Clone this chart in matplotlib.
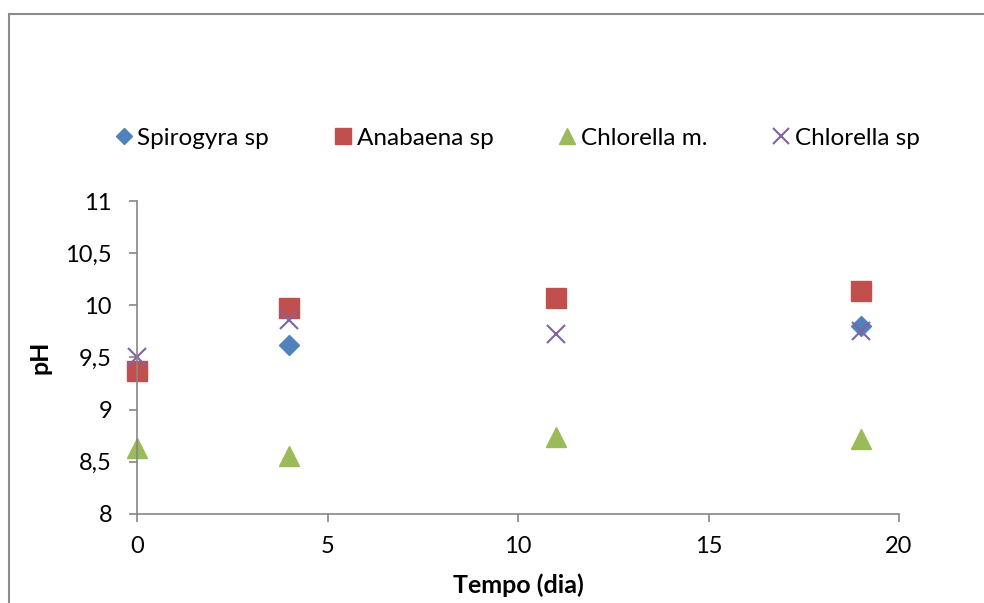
import matplotlib
matplotlib.use("Agg")
import matplotlib.pyplot as plt
from matplotlib.patches import Rectangle
from matplotlib.ticker import FuncFormatter

plt.rcParams['font.family'] = ['Lato', 'DejaVu Sans']

# Sampling days and measured pH per culture
dias = [0, 4, 11, 19]
spirogyra = [9.37, 9.62, 10.07, 9.80]
anabaena = [9.37, 9.97, 10.07, 10.14]
chlorella_m = [8.63, 8.56, 8.74, 8.72]
chlorella_sp = [9.50, 9.86, 9.73, 9.75]

series = [
    ("Spirogyra sp", spirogyra, "D", "#4F81BD", 10),
    ("Anabaena sp", anabaena, "s", "#C0504D", 14),
    ("Chlorella m.", chlorella_m, "^", "#9BBB59", 14),
    ("Chlorella sp", chlorella_sp, "x", "#8064A2", 13),
]

fig = plt.figure(figsize=(9.84, 6.03), dpi=100)

# outer chart frame
fig.patches.append(Rectangle((9 / 984, -0.1), 1.2, 1 - 14 / 603 + 0.1,
                             transform=fig.transFigure, fill=False,
                             edgecolor="#8c8c8c", linewidth=1.5))

ax = fig.add_axes([137 / 984, 1 - 514 / 603, (899 - 137) / 984, (514 - 201) / 603])

handles = []
for name, vals, mk, col, ms in series:
    if mk == "x":
        h, = ax.plot(dias, vals, linestyle="none", marker=mk, markersize=ms,
                     markeredgewidth=1.5, color=col, label=name, clip_on=False)
    else:
        h, = ax.plot(dias, vals, linestyle="none", marker=mk, markersize=ms,
                     markerfacecolor=col, markeredgecolor=col, label=name,
                     clip_on=False)
    handles.append(h)

ax.set_xlim(0, 20)
ax.set_ylim(8, 11)
ax.set_xticks([0, 5, 10, 15, 20])
ax.set_yticks([8, 8.5, 9, 9.5, 10, 10.5, 11])
ax.yaxis.set_major_formatter(FuncFormatter(lambda v, p: (f"{v:g}").replace(".", ",")))

for side in ("top", "right"):
    ax.spines[side].set_visible(False)
for side in ("left", "bottom"):
    ax.spines[side].set_color("#868686")
    ax.spines[side].set_linewidth(1.2)
ax.tick_params(axis="both", direction="out", length=6, width=1.2,
               color="#868686", labelsize=17, labelcolor="black")
ax.tick_params(axis="x", pad=10)
ax.tick_params(axis="y", pad=12)

ax.set_xlabel("Tempo (dia)", fontsize=18, fontweight="bold", labelpad=12)
ax.set_ylabel("pH", fontsize=18, fontweight="bold", labelpad=10)

fig.legend(handles=handles, loc="center", bbox_to_anchor=(517 / 984, 1 - 138 / 603),
           ncol=4, frameon=False, fontsize=17.5, handlelength=0.8, markerscale=0.85,
           handletextpad=0.15, columnspacing=2.65, borderaxespad=0, borderpad=0)

fig.savefig("out.png", dpi=100)
